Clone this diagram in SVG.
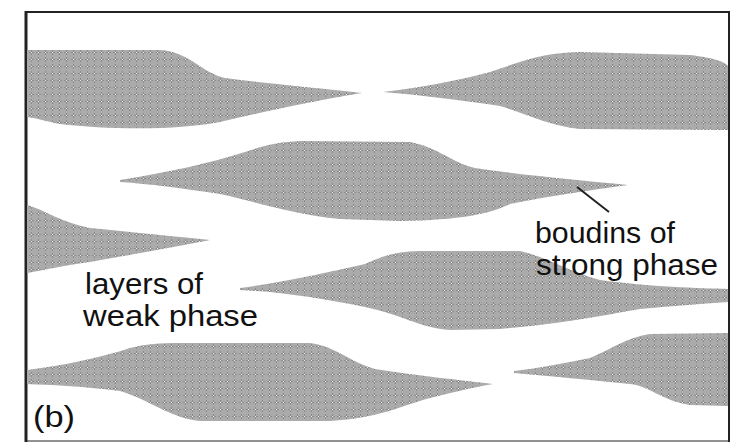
<svg xmlns="http://www.w3.org/2000/svg" width="742" height="442" viewBox="0 0 742 442">
  <style>
    .boudin { fill: url(#halftone); stroke: none; }
    .label { font-family: "Liberation Sans", Arial, sans-serif; font-size: 30px; fill: #111; }
    .frame { fill: none; stroke: #222; }
  </style>
  <defs>
    <!-- screen-printed grey tone used for the strong-phase lenses -->
    <pattern id="halftone" patternUnits="userSpaceOnUse" width="7" height="7">
      <rect width="7" height="7" fill="#ababab"/>
      <rect x="3" y="1.5" width="1" height="1" fill="#6e6e6e"/>
      <rect x="1.5" y="3" width="1" height="1" fill="#6e6e6e"/>
      <rect x="4.5" y="3" width="1" height="1" fill="#6e6e6e"/>
      <rect x="3" y="4.5" width="1" height="1" fill="#6e6e6e"/>
      <rect x="3" y="3" width="1" height="1" fill="#f0f0f0"/>
    </pattern>
  </defs>

  <rect width="742" height="442" fill="#ffffff"/>

  <!-- outer frame -->
  <line class="frame" x1="25" y1="12" x2="730" y2="12" stroke-width="2"/>
  <line class="frame" x1="26" y1="11" x2="26" y2="442" stroke-width="3"/>
  <line class="frame" x1="729" y1="11" x2="729" y2="442" stroke-width="2"/>
  <line class="frame" x1="25" y1="441" x2="730" y2="441" stroke-width="1" stroke="#bbb"/>

  <!-- boudins of the strong phase -->
  <g id="boudin-top-left">
    <path class="boudin" d="M27,50 L160,50 C190,52 200,72 225,78 C280,85 330,89 362,93 C330,98 270,110 220,122 C180,130 110,130 60,124 C45,121 35,118 27,117 Z"/>
  </g>
  <g id="boudin-top-right">
    <path class="boudin" d="M383,92 C420,88 460,80 490,72 C520,62 540,53 580,52 L690,55 C715,58 725,62 728,66 L728,130 L580,129 C550,126 530,115 500,106 C460,100 420,95 383,92 Z"/>
  </g>
  <g id="boudin-middle">
    <path class="boudin" d="M120,180 C170,172 210,163 245,152 C265,145 280,142 300,141 L410,142 C440,148 450,162 475,168 C530,176 580,180 628,185 C590,190 550,196 510,204 C490,214 460,220 400,221 L340,219 C290,214 250,200 220,194 C180,188 150,184 120,182 Z"/>
  </g>
  <g id="boudin-mid-left">
    <path class="boudin" d="M27,205 C45,210 60,222 90,228 C140,233 180,237 210,240 C180,246 130,255 90,262 C60,266 45,270 27,273 Z"/>
  </g>
  <g id="boudin-mid-right">
    <path class="boudin" d="M240,288 C290,281 330,272 365,264 C385,255 395,252 420,251 L520,251 C550,258 570,272 600,280 C650,287 700,288 728,289 L728,302 C700,304 670,306 640,309 C600,316 560,324 500,329 L450,330 C420,328 400,314 365,307 C320,298 280,292 240,290 Z"/>
  </g>
  <g id="boudin-bottom-left">
    <path class="boudin" d="M27,370 C60,366 100,358 130,348 C145,344 160,343 180,343 L310,343 C335,346 350,362 375,369 C420,376 460,380 493,384 C470,388 450,393 430,398 C400,406 380,418 330,421 L200,421 C170,418 150,400 120,391 C80,386 50,385 27,384 Z"/>
  </g>
  <g id="boudin-bottom-right">
    <path class="boudin" d="M514,371 C540,368 565,363 590,358 C610,350 625,338 650,334 L728,333 L728,406 L690,405 C660,400 650,386 630,384 C590,380 550,376 514,373 Z"/>
  </g>

  <!-- leader from the label to a boudin neck -->
  <g id="connectors">
    <line x1="577" y1="187" x2="609" y2="212" stroke="#222" stroke-width="2"/>
  </g>

  <!-- labels -->
  <g id="label-boudins">
    <text class="label" x="535" y="243" textLength="140" lengthAdjust="spacingAndGlyphs">boudins of</text>
    <text class="label" x="536" y="275" textLength="182" lengthAdjust="spacingAndGlyphs">strong phase</text>
  </g>
  <g id="label-layers">
    <text class="label" x="85" y="294" textLength="118" lengthAdjust="spacingAndGlyphs">layers of</text>
    <text class="label" x="83" y="326" textLength="175" lengthAdjust="spacingAndGlyphs">weak phase</text>
  </g>
  <g id="label-panel">
    <text class="label" x="33" y="427" textLength="42" lengthAdjust="spacingAndGlyphs">(b)</text>
  </g>
</svg>
